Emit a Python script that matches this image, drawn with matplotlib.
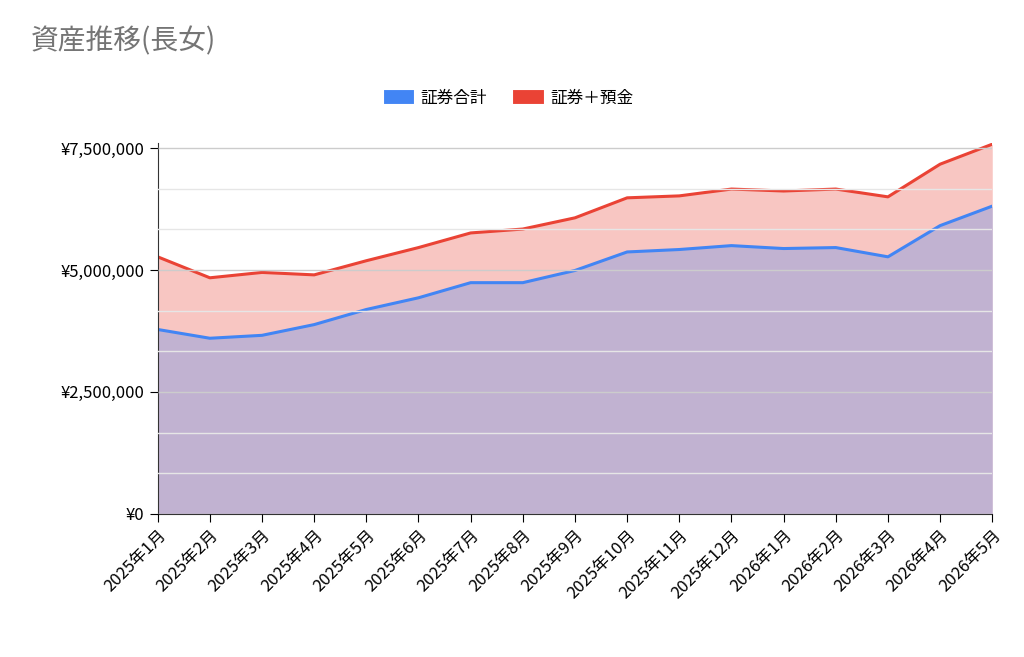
import matplotlib
matplotlib.use("Agg")
import matplotlib.pyplot as plt
from matplotlib.ticker import FuncFormatter, MultipleLocator

plt.rcParams['font.family'] = ['Noto Sans CJK JP', 'DejaVu Sans']

months = ["2025年1月","2025年2月","2025年3月","2025年4月","2025年5月","2025年6月","2025年7月","2025年8月","2025年9月","2025年10月","2025年11月","2025年12月","2026年1月","2026年2月","2026年3月","2026年4月","2026年5月"]
securities = [3780000,3600000,3660000,3880000,4190000,4430000,4740000,4740000,4990000,5370000,5420000,5500000,5440000,5460000,5270000,5910000,6310000]
total = [5270000,4840000,4950000,4900000,5190000,5460000,5760000,5840000,6070000,6480000,6520000,6660000,6620000,6660000,6500000,7170000,7580000]

fig = plt.figure(figsize=(10.24, 6.57), dpi=100)
ax = fig.add_axes([0.154, 0.218, 0.815, 0.564])
x = list(range(len(months)))
ax.fill_between(x, 0, total, color='#ea4335', alpha=0.3, lw=0)
ax.fill_between(x, 0, securities, color='#4285f4', alpha=0.3, lw=0)
ax.plot(x, securities, color='#4285f4', lw=2.2, label='証券合計')
ax.plot(x, total, color='#ea4335', lw=2.2, label='証券＋預金')

ax.set_xlim(0, len(months)-1)
ax.set_ylim(0, 7600000)
ax.yaxis.set_major_locator(MultipleLocator(2500000))
ax.yaxis.set_minor_locator(MultipleLocator(2500000/3))
ax.yaxis.set_major_formatter(FuncFormatter(lambda v, p: f"¥{int(v):,}"))
ax.grid(True, which='major', axis='y', color='#cccccc', lw=1)
ax.grid(True, which='minor', axis='y', color='#e6e6e6', lw=1)
ax.set_axisbelow(False)
ax.set_xticks(x)
ax.set_xticklabels(months, rotation=45, ha='right', rotation_mode='anchor', fontsize=12)
ax.tick_params(axis='y', labelsize=12, length=6, which='major')
ax.tick_params(axis='y', which='minor', length=0)
ax.tick_params(axis='x', length=6)
for s in ['top', 'right']:
    ax.spines[s].set_visible(False)
ax.spines['left'].set_color('#333333')
ax.spines['bottom'].set_color('#333333')

fig.text(0.03, 0.925, '資産推移(長女)', fontsize=20, color='#757575')
fig.legend(loc='center', bbox_to_anchor=(0.5, 0.85), ncol=2, frameon=False,
           fontsize=12, handlelength=1, handleheight=1, columnspacing=2)
leg = fig.legends[0]
for h in leg.legend_handles:
    h.set_linewidth(10)
fig.savefig('out.png', dpi=100)
